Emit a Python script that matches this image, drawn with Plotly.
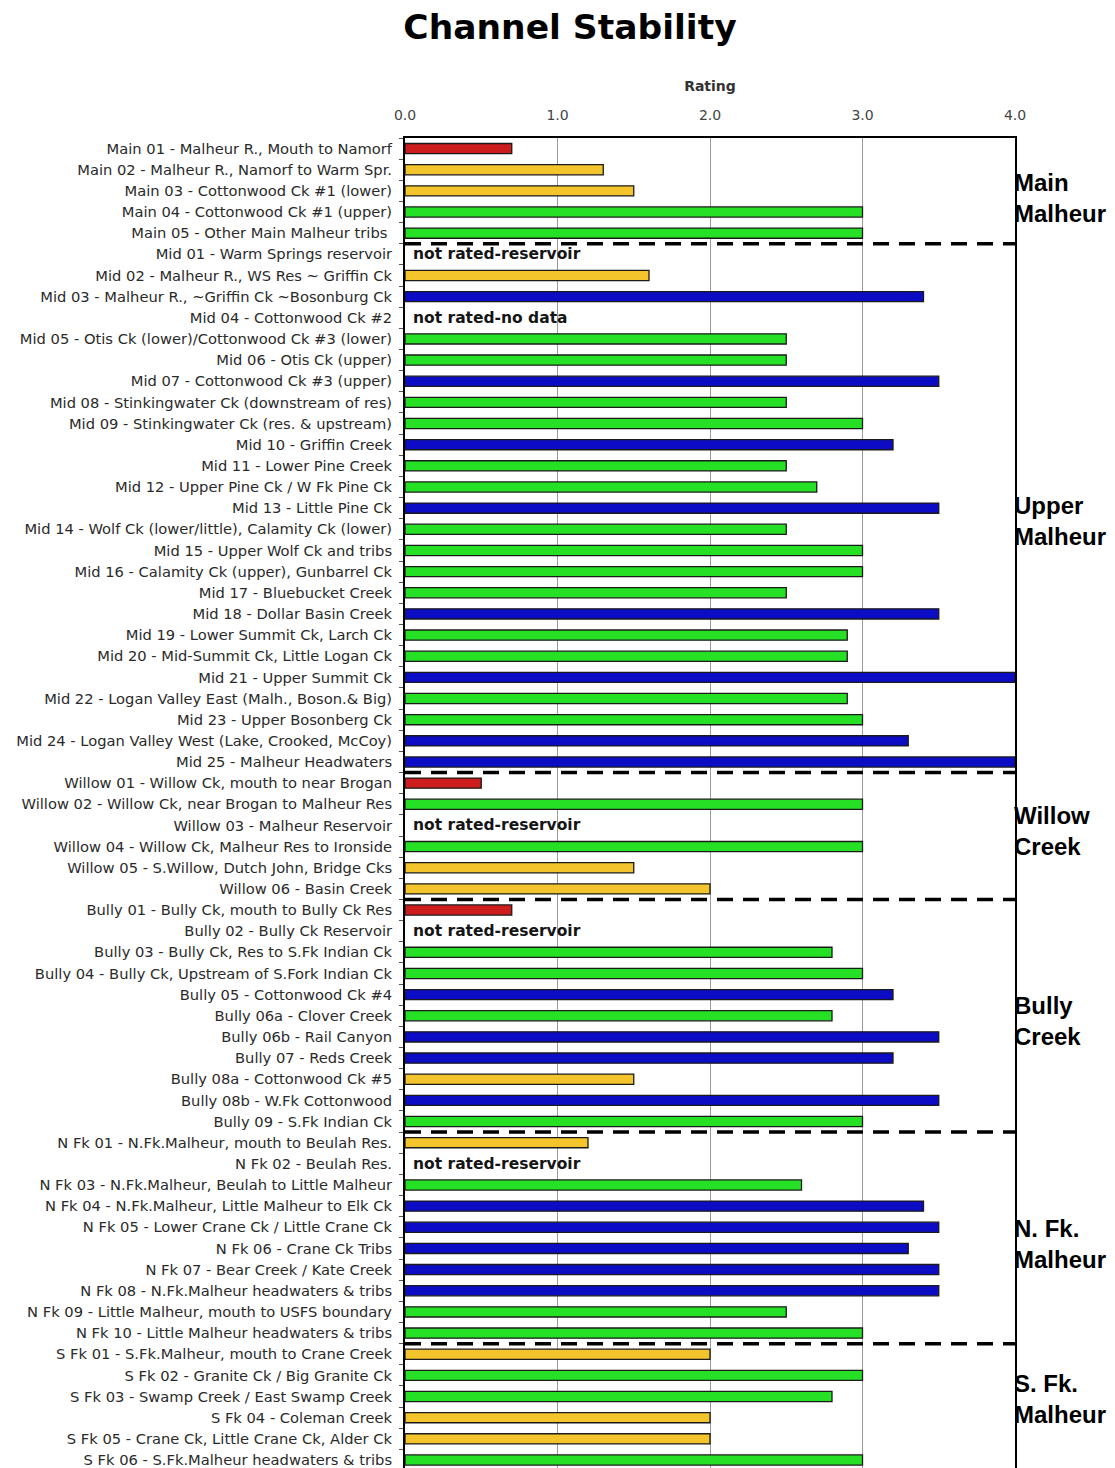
import plotly.graph_objects as go

# Reach names (top to bottom) and channel stability ratings (None = not rated)
reaches = [
    "Main 01 - Malheur R., Mouth to Namorf",
    "Main 02 - Malheur R., Namorf to Warm Spr.",
    "Main 03 - Cottonwood Ck #1 (lower)",
    "Main 04 - Cottonwood Ck #1 (upper)",
    "Main 05 - Other Main Malheur tribs ",
    "Mid 01 - Warm Springs reservoir",
    "Mid 02 - Malheur R., WS Res ~ Griffin Ck",
    "Mid 03 - Malheur R., ~Griffin Ck ~Bosonburg Ck",
    "Mid 04 - Cottonwood Ck #2",
    "Mid 05 - Otis Ck (lower)/Cottonwood Ck #3 (lower)",
    "Mid 06 - Otis Ck (upper)",
    "Mid 07 - Cottonwood Ck #3 (upper)",
    "Mid 08 - Stinkingwater Ck (downstream of res)",
    "Mid 09 - Stinkingwater Ck (res. & upstream)",
    "Mid 10 - Griffin Creek",
    "Mid 11 - Lower Pine Creek",
    "Mid 12 - Upper Pine Ck / W Fk Pine Ck",
    "Mid 13 - Little Pine Ck",
    "Mid 14 - Wolf Ck (lower/little), Calamity Ck (lower)",
    "Mid 15 - Upper Wolf Ck and tribs",
    "Mid 16 - Calamity Ck (upper), Gunbarrel Ck",
    "Mid 17 - Bluebucket Creek",
    "Mid 18 - Dollar Basin Creek",
    "Mid 19 - Lower Summit Ck, Larch Ck",
    "Mid 20 - Mid-Summit Ck, Little Logan Ck",
    "Mid 21 - Upper Summit Ck",
    "Mid 22 - Logan Valley East (Malh., Boson.& Big)",
    "Mid 23 - Upper Bosonberg Ck",
    "Mid 24 - Logan Valley West (Lake, Crooked, McCoy)",
    "Mid 25 - Malheur Headwaters",
    "Willow 01 - Willow Ck, mouth to near Brogan",
    "Willow 02 - Willow Ck, near Brogan to Malheur Res",
    "Willow 03 - Malheur Reservoir",
    "Willow 04 - Willow Ck, Malheur Res to Ironside",
    "Willow 05 - S.Willow, Dutch John, Bridge Cks",
    "Willow 06 - Basin Creek",
    "Bully 01 - Bully Ck, mouth to Bully Ck Res",
    "Bully 02 - Bully Ck Reservoir",
    "Bully 03 - Bully Ck, Res to S.Fk Indian Ck",
    "Bully 04 - Bully Ck, Upstream of S.Fork Indian Ck",
    "Bully 05 - Cottonwood Ck #4",
    "Bully 06a - Clover Creek",
    "Bully 06b - Rail Canyon",
    "Bully 07 - Reds Creek",
    "Bully 08a - Cottonwood Ck #5",
    "Bully 08b - W.Fk Cottonwood",
    "Bully 09 - S.Fk Indian Ck",
    "N Fk 01 - N.Fk.Malheur, mouth to Beulah Res.",
    "N Fk 02 - Beulah Res.",
    "N Fk 03 - N.Fk.Malheur, Beulah to Little Malheur",
    "N Fk 04 - N.Fk.Malheur, Little Malheur to Elk Ck",
    "N Fk 05 - Lower Crane Ck / Little Crane Ck",
    "N Fk 06 - Crane Ck Tribs",
    "N Fk 07 - Bear Creek / Kate Creek",
    "N Fk 08 - N.Fk.Malheur headwaters & tribs",
    "N Fk 09 - Little Malheur, mouth to USFS boundary",
    "N Fk 10 - Little Malheur headwaters & tribs",
    "S Fk 01 - S.Fk.Malheur, mouth to Crane Creek",
    "S Fk 02 - Granite Ck / Big Granite Ck",
    "S Fk 03 - Swamp Creek / East Swamp Creek",
    "S Fk 04 - Coleman Creek",
    "S Fk 05 - Crane Ck, Little Crane Ck, Alder Ck",
    "S Fk 06 - S.Fk.Malheur headwaters & tribs",
]

ratings = [
    0.7, 1.3, 1.5, 3.0, 3.0,
    None, 1.6, 3.4, None, 2.5, 2.5, 3.5, 2.5, 3.0, 3.2, 2.5, 2.7, 3.5, 2.5,
    3.0, 3.0, 2.5, 3.5, 2.9, 2.9, 4.0, 2.9, 3.0, 3.3, 4.0,
    0.5, 3.0, None, 3.0, 1.5, 2.0,
    0.7, None, 2.8, 3.0, 3.2, 2.8, 3.5, 3.2, 1.5, 3.5, 3.0,
    1.2, None, 2.6, 3.4, 3.5, 3.3, 3.5, 3.5, 2.5, 3.0,
    2.0, 3.0, 2.8, 2.0, 2.0, 3.0,
]

# Notes for reaches without a rating
not_rated = {
    "Mid 01 - Warm Springs reservoir": "not rated-reservoir",
    "Mid 04 - Cottonwood Ck #2": "not rated-no data",
    "Willow 03 - Malheur Reservoir": "not rated-reservoir",
    "Bully 02 - Bully Ck Reservoir": "not rated-reservoir",
    "N Fk 02 - Beulah Res.": "not rated-reservoir",
}

# Sub-basin groups: label and number of reaches in each
group_names = ["Main<br>Malheur", "Upper<br>Malheur", "Willow<br>Creek",
               "Bully<br>Creek", "N. Fk.<br>Malheur", "S. Fk.<br>Malheur"]
group_sizes = [5, 25, 6, 11, 10, 6]
# vertical nudge of each group label, in rows, from the middle of its group
label_nudge = [0.32, 0.59, -0.23, 0.23, 0.30, -0.38]

tick_values = [0, 1, 2, 3, 4]

LABEL_FONT = "DejaVu Sans, Verdana, sans-serif"


def bar_color(v):
    if v is None:
        return "#ffffff"
    if v < 1.0:
        return "#cc1c1c"
    if v <= 2.0:
        return "#f4c42c"
    if v <= 3.0:
        return "#26e026"
    return "#0c0cc4"


fig = go.Figure()
fig.add_trace(go.Bar(
    x=ratings,
    y=reaches,
    orientation="h",
    marker=dict(color=[bar_color(v) for v in ratings],
                line=dict(color="#1a1a1a", width=1.3)),
    hoverinfo="x+y",
    showlegend=False,
))

annotations = []
shapes = []

# "not rated" notes placed on their rows
for name, note in not_rated.items():
    annotations.append(dict(
        x=0, y=name, xref="x", yref="y", text="<b>" + note + "</b>", showarrow=False,
        xanchor="left", yanchor="middle", xshift=6,
        font=dict(family=LABEL_FONT, size=15.5, color="#151515"),
    ))

# Group separators and group labels on the right
start = 0
for gi, (gname, gsize) in enumerate(zip(group_names, group_sizes)):
    end = start + gsize
    center = (start + end - 1) / 2.0 + label_nudge[gi]
    annotations.append(dict(
        x=1.0, y=center, xref="paper", yref="y", text="<b>" + gname + "</b>",
        showarrow=False, xanchor="left", yanchor="middle", align="left",
        xshift=-3,
        font=dict(family="Liberation Sans, Arial", size=24, color="#000000"),
    ))
    if gi < len(group_sizes) - 1:
        shapes.append(dict(
            type="line", xref="x", yref="y", x0=tick_values[0], x1=tick_values[-1],
            y0=end - 0.5, y1=end - 0.5,
            line=dict(color="#000000", width=3.5, dash="16px,10px"),
        ))
    start = end

fig.update_layout(
    width=1115,
    height=1468,
    margin=dict(l=405, r=100, t=138, b=0, pad=0),
    paper_bgcolor="white",
    plot_bgcolor="white",
    bargap=0.52,
    title=dict(
        text="<b>Channel Stability</b>",
        x=570 / 1115, xref="container", xanchor="center",
        y=1 - 27 / 1468, yref="container", yanchor="middle",
        font=dict(family="DejaVu Sans, Arial", size=34.5, color="#000000"),
    ),
    xaxis=dict(
        side="top",
        range=[tick_values[0], tick_values[-1]],
        tickvals=tick_values,
        tickformat=".1f",
        ticks="",
        ticklabelstandoff=10,
        tickfont=dict(family=LABEL_FONT, size=14, color="#444444"),
        showgrid=True, gridcolor="#9a9a9a", gridwidth=1,
        showline=True, linecolor="#000000", linewidth=2,
        zeroline=False,
        title=dict(text="<b>Rating</b>", standoff=13,
                   font=dict(family=LABEL_FONT, size=14, color="#333333")),
        fixedrange=True,
    ),
    yaxis=dict(
        type="category",
        categoryorder="array",
        categoryarray=reaches,
        range=[62.38, -0.5],
        ticks="outside", ticklen=4, tickcolor="#555555", tickson="boundaries",
        ticklabelstandoff=8,
        tickfont=dict(family=LABEL_FONT, size=14.7, color="#2a2a2a"),
        showline=True, linecolor="#000000", linewidth=2, mirror=True,
        showgrid=False,
        fixedrange=True,
    ),
    annotations=annotations,
    shapes=shapes,
)

fig.write_html("out.html")
